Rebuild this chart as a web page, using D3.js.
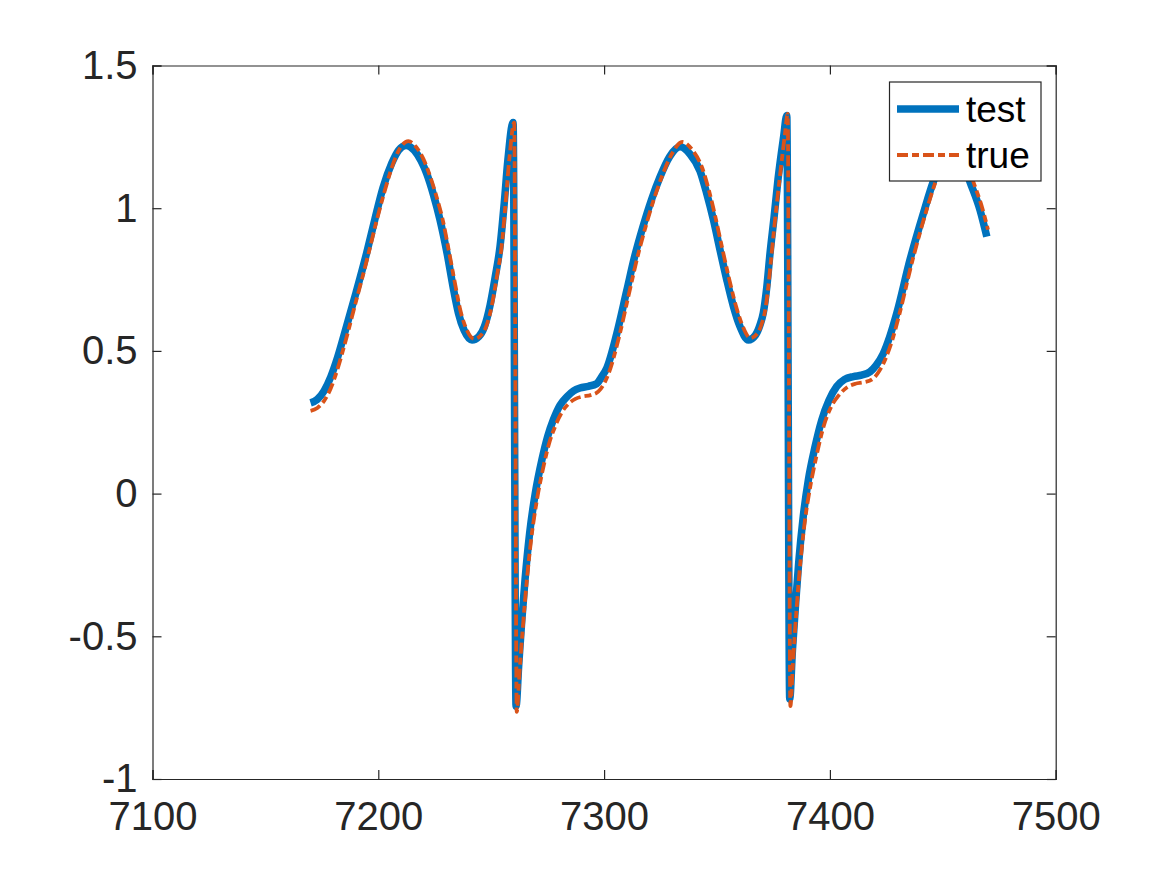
<!DOCTYPE html>
<html>
<head>
<meta charset="utf-8">
<script src="https://cdn.jsdelivr.net/npm/d3@7"></script>
<style>
  body { margin: 0; background: #fff; }
  svg { display: block; font-family: "Liberation Sans", Arial, sans-serif; }
</style>
</head>
<body>
<svg id="chart" width="1167" height="875"></svg>
<script>
// tick values
var xTicks = [7100, 7200, 7300, 7400, 7500];
var yTicks = [-1, -0.5, 0, 0.5, 1, 1.5];

// "test" series
var testX = [7170, 7173, 7176, 7179, 7182, 7185, 7190, 7194.9, 7198.5, 7202.1, 7206, 7209, 7212.3, 7216, 7219, 7221.4, 7224.5, 7227.3, 7230.5, 7233.1, 7235.5, 7238, 7241.5, 7244.5, 7247, 7249.5, 7251.8, 7253.9, 7255.8, 7257.4, 7259.7,
  7261, 7262.2, 7263.5, 7265, 7267, 7269.5, 7272.5, 7275, 7277.5, 7280.5, 7283.6, 7286.5, 7289.3, 7293, 7296.7, 7299, 7301.2, 7305.6, 7310, 7313.5, 7317.2, 7321, 7324.8, 7329, 7333.6, 7338, 7342.5, 7345.5, 7348.4, 7351.3, 7354.3, 7357.3, 7360.2, 7363.9, 7367, 7369, 7370.5, 7372, 7373.5, 7375.3, 7377, 7379.5, 7380.9,
  7382.2, 7383.4, 7384.7, 7386.2, 7388.2, 7390.5, 7393.3, 7396.4, 7399.5, 7403, 7406.5, 7410.4, 7414, 7417.8, 7420.5, 7423.6, 7426.5, 7429.6, 7435.5, 7441.4, 7445.8, 7450, 7454.5, 7458.5, 7462, 7466.5, 7469.5];
var testY = [0.318, 0.33, 0.36, 0.41, 0.478, 0.56, 0.7, 0.845, 0.962, 1.072, 1.158, 1.203, 1.22, 1.202, 1.165, 1.122, 1.045, 0.96, 0.84, 0.725, 0.632, 0.572, 0.538, 0.55, 0.585, 0.66, 0.76, 0.865, 1.02, 1.17, 1.3,
  -0.745, -0.6, -0.45, -0.3, -0.14, 0.0, 0.12, 0.2, 0.258, 0.31, 0.34, 0.36, 0.37, 0.376, 0.385, 0.41, 0.44, 0.56, 0.71, 0.83, 0.935, 1.03, 1.11, 1.18, 1.215, 1.19, 1.13, 1.05, 0.96, 0.855, 0.75, 0.655, 0.585, 0.538, 0.555, 0.59, 0.633, 0.72, 0.843, 0.97, 1.1, 1.25, 1.325,
  -0.72, -0.55, -0.4, -0.24, -0.08, 0.05, 0.16, 0.258, 0.325, 0.375, 0.4, 0.41, 0.415, 0.427, 0.45, 0.49, 0.55, 0.632, 0.82, 0.982, 1.093, 1.17, 1.2, 1.17, 1.093, 0.993, 0.9];

// "true" series
var trueX = [7170, 7173, 7176, 7179, 7182, 7185, 7190, 7195, 7199, 7203, 7207, 7210, 7213.3, 7217, 7220, 7222.5, 7225.5, 7228.5, 7231.5, 7234, 7236.5, 7239, 7242.5, 7245.5, 7248, 7250.3, 7252.5, 7254.6, 7256.4, 7258, 7260.2,
  7261.3, 7262.6, 7264, 7265.6, 7267.7, 7270.3, 7273.3, 7275.8, 7278.3, 7281.3, 7284.3, 7287.3, 7290.3, 7294, 7297.5, 7300, 7302.2, 7306.5, 7311, 7314.5, 7318.2, 7322, 7325.8, 7330, 7334.6, 7339, 7343.5, 7346.5, 7349.4, 7352.3, 7355.3, 7358.3, 7361.2, 7364.8, 7367.8, 7369.8, 7371.3, 7372.8, 7374.3, 7376, 7377.7, 7380.1, 7381.3,
  7382.5, 7383.6, 7385, 7386.6, 7388.7, 7391.2, 7394, 7397.2, 7400.3, 7404, 7407.5, 7411.3, 7415, 7418.7, 7421.5, 7424.5, 7427.5, 7430.5, 7436.5, 7442.3, 7446.8, 7451, 7455.5, 7459.5, 7463, 7467.5, 7470];
var trueY = [0.29, 0.3, 0.325, 0.37, 0.438, 0.52, 0.67, 0.82, 0.948, 1.065, 1.165, 1.215, 1.235, 1.212, 1.172, 1.122, 1.048, 0.96, 0.84, 0.735, 0.637, 0.577, 0.542, 0.555, 0.59, 0.66, 0.76, 0.865, 1.02, 1.17, 1.3,
  -0.765, -0.62, -0.47, -0.32, -0.16, -0.02, 0.1, 0.18, 0.235, 0.285, 0.315, 0.332, 0.34, 0.345, 0.358, 0.385, 0.425, 0.545, 0.7, 0.82, 0.93, 1.03, 1.115, 1.19, 1.232, 1.205, 1.14, 1.06, 0.965, 0.86, 0.755, 0.66, 0.59, 0.545, 0.56, 0.595, 0.64, 0.73, 0.85, 0.98, 1.1, 1.26, 1.33,
  -0.745, -0.6, -0.43, -0.27, -0.11, 0.02, 0.13, 0.235, 0.3, 0.345, 0.372, 0.385, 0.39, 0.4, 0.425, 0.47, 0.535, 0.62, 0.815, 0.98, 1.093, 1.18, 1.225, 1.19, 1.105, 1.0, 0.925];

var seriesNames = ["test", "true"];

var testData = testX.map((x, i) => ({ x: x, y: testY[i] }));
var trueData = trueX.map((x, i) => ({ x: x, y: trueY[i] }));

var margin = { top: 65.5, right: 111.3, bottom: 96, left: 152.5 };
var width = 1167, height = 875;

var svg = d3.select("#chart");

var xScale = d3.scaleLinear()
  .domain([7100, 7500])
  .range([margin.left, width - margin.right]);
var yScale = d3.scaleLinear()
  .domain([-1, 1.5])
  .range([height - margin.bottom, margin.top]);

var axisColor = "#262626";
var tickLen = 9;

// axes with inward ticks on all four sides
var gx = svg.append("g")
  .attr("transform", `translate(0,${height - margin.bottom})`)
  .call(d3.axisBottom(xScale).tickValues(xTicks).tickSize(-tickLen).tickPadding(23).tickFormat(d => String(d)));
var gxTop = svg.append("g")
  .attr("transform", `translate(0,${margin.top})`)
  .call(d3.axisTop(xScale).tickValues(xTicks).tickSize(-tickLen).tickFormat(""));
var gy = svg.append("g")
  .attr("transform", `translate(${margin.left},0)`)
  .call(d3.axisLeft(yScale).tickValues(yTicks).tickSize(-tickLen).tickPadding(15).tickFormat(d => String(d)));
var gyRight = svg.append("g")
  .attr("transform", `translate(${width - margin.right},0)`)
  .call(d3.axisRight(yScale).tickValues(yTicks).tickSize(-tickLen).tickFormat(""));

[gx, gxTop, gy, gyRight].forEach(g => {
  g.select(".domain").attr("stroke", axisColor).attr("stroke-width", 1.2);
  g.selectAll(".tick line").attr("stroke", axisColor).attr("stroke-width", 1.2);
  g.selectAll(".tick text")
    .attr("fill", axisColor)
    .attr("font-size", 40)
    .attr("font-family", "'Liberation Sans', Arial, sans-serif");
});
gx.selectAll(".tick text").attr("dy", "0.71em");

// lines
var line = d3.line()
  .x(d => xScale(d.x))
  .y(d => yScale(d.y))
  .curve(d3.curveMonotoneX);

svg.append("path")
  .datum(testData)
  .attr("fill", "none")
  .attr("stroke", "#0072BD")
  .attr("stroke-width", 7.5)
  .attr("stroke-linejoin", "round")
  .attr("d", line);

svg.append("path")
  .datum(trueData)
  .attr("fill", "none")
  .attr("stroke", "#D95319")
  .attr("stroke-width", 3.8)
  .attr("stroke-dasharray", "11,4,7,4")
  .attr("d", line);

// legend
var legend = svg.append("g");
legend.append("rect")
  .attr("x", 889.5).attr("y", 82)
  .attr("width", 151.5).attr("height", 99)
  .attr("fill", "#fff")
  .attr("stroke", "#262626")
  .attr("stroke-width", 1.2);

var legendStyles = [
  { color: "#0072BD", w: 7.5, dash: null },
  { color: "#D95319", w: 3.8, dash: "11,4,7,4" }
];
seriesNames.forEach((name, i) => {
  var yy = 109 + i * 46;
  legend.append("line")
    .attr("x1", 897).attr("x2", 959)
    .attr("y1", yy).attr("y2", yy)
    .attr("stroke", legendStyles[i].color)
    .attr("stroke-width", legendStyles[i].w)
    .attr("stroke-dasharray", legendStyles[i].dash);
  legend.append("text")
    .attr("x", 966).attr("y", yy)
    .attr("dy", "0.36em")
    .attr("font-size", 37)
    .attr("fill", "#000")
    .text(name);
});
</script>
</body>
</html>
